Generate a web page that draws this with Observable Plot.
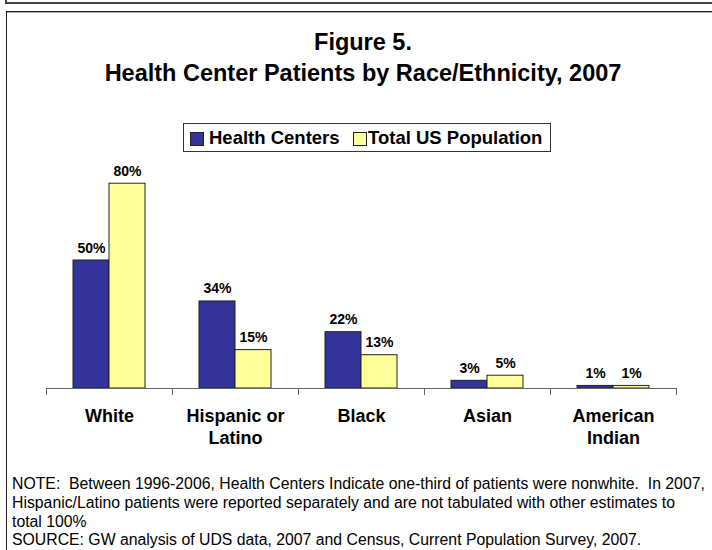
<!DOCTYPE html>
<html>
<head>
<meta charset="utf-8">
<script src="https://cdn.jsdelivr.net/npm/d3@7"></script>
<script src="https://cdn.jsdelivr.net/npm/@observablehq/plot@0.6"></script>
<style>
  html, body { margin: 0; padding: 0; background: #fff; }
  body { font-family: "Liberation Sans", Arial, sans-serif; color: #000; }
  #wrap { position: relative; width: 712px; height: 550px; overflow: hidden; }
  .abs { position: absolute; }
  #topbox { left: 5px; top: -10px; width: 760px; height: 12px; border-left: 2px solid #444; border-bottom: 2px solid #444; }
  #frame { left: 6px; top: 11px; width: 760px; height: 600px; border-left: 1.5px solid #222; border-top: 1px solid #222; box-shadow: inset 0 1px 0 #aaa; }
  #title { left: 0; width: 726px; top: 27px; text-align: center; font-weight: bold; font-size: 23.5px; line-height: 31px; }
  #legend { left: 183px; top: 123px; width: 366px; height: 27px; border: 1px solid #333; }
  .sw { position: absolute; width: 12px; height: 12px; border: 1px solid #222; top: 8px; }
  .lt { position: absolute; top: 3px; font-weight: bold; font-size: 18.5px; line-height: 22px; white-space: nowrap; }
  #notes { left: 12px; top: 475px; font-size: 15.8px; line-height: 18.8px; white-space: pre; }
  #chart { left: 0; top: 0; }
</style>
</head>
<body>
<div id="wrap">
  <div id="topbox" class="abs"></div>
  <div id="frame" class="abs"></div>
  <div id="title" class="abs">Figure 5.<br>Health Center Patients by Race/Ethnicity, 2007</div>
  <div id="legend" class="abs"></div>
  <div id="chart" class="abs"></div>
  <div id="notes" class="abs"></div>
</div>
<script>
const categories = ["White", "Hispanic or Latino", "Black", "Asian", "American Indian"];
const categoryLabels = ["White", "Hispanic or\nLatino", "Black", "Asian", "American\nIndian"];
const seriesNames = ["Health Centers", "Total US Population"];
const seriesColors = ["#333399", "#FFFF99"];
const healthCenters = [50, 34, 22, 3, 1];
const totalUSPopulation = [80, 15, 13, 5, 1];
const noteLines = [
  "NOTE:  Between 1996-2006, Health Centers Indicate one-third of patients were nonwhite.  In 2007,",
  "Hispanic/Latino patients were reported separately and are not tabulated with other estimates to",
  "total 100%",
  "SOURCE: GW analysis of UDS data, 2007 and Census, Current Population Survey, 2007."
];

const data = categories.flatMap((c, i) => [
  {category: c, series: seriesNames[0], value: healthCenters[i]},
  {category: c, series: seriesNames[1], value: totalUSPopulation[i]}
]);

// legend
const legend = document.getElementById("legend");
const swLeft = [6, 169], txtLeft = [25, 184];
seriesNames.forEach((s, i) => {
  const sw = document.createElement("div");
  sw.className = "sw";
  sw.style.left = swLeft[i] + "px";
  sw.style.background = seriesColors[i];
  legend.appendChild(sw);
  const t = document.createElement("div");
  t.className = "lt";
  t.style.left = txtLeft[i] + "px";
  t.textContent = s;
  legend.appendChild(t);
});

document.getElementById("notes").textContent = noteLines.join("\n");

const chart = Plot.plot({
  width: 712,
  height: 550,
  marginLeft: 46,
  marginRight: 36,
  marginTop: 132,
  marginBottom: 162,
  style: {background: "transparent", overflow: "visible", fontFamily: "Liberation Sans, Arial, sans-serif"},
  fx: {domain: categories, padding: 0, axis: null},
  x: {domain: seriesNames, paddingInner: 0, paddingOuter: 0.75, axis: null},
  y: {domain: [0, 100], axis: null},
  color: {domain: seriesNames, range: seriesColors},
  marks: [
    Plot.barY(data, {fx: "category", x: "series", y: "value", fill: "series", stroke: "#222", strokeWidth: 1}),
    Plot.frame({anchor: "bottom", stroke: "#666", strokeWidth: 1}),
    Plot.frame({anchor: "left", stroke: "#666", insetTop: 256, insetBottom: -6}),
    Plot.frame({anchor: "right", stroke: "#666", insetTop: 256, insetBottom: -6}),
    Plot.text(data, {fx: "category", x: "series", y: "value", text: d => d.value + "%",
      lineAnchor: "bottom", dy: -8, fontWeight: "bold", fontSize: 14, fill: "#000"}),
    Plot.text(categoryLabels, {fx: (d, i) => categories[i], text: d => d, frameAnchor: "bottom",
      lineAnchor: "top", dy: 18, lineHeight: 1.22, fontWeight: "bold", fontSize: 18, fill: "#000"})
  ]
});
document.getElementById("chart").appendChild(chart);
</script>
</body>
</html>
